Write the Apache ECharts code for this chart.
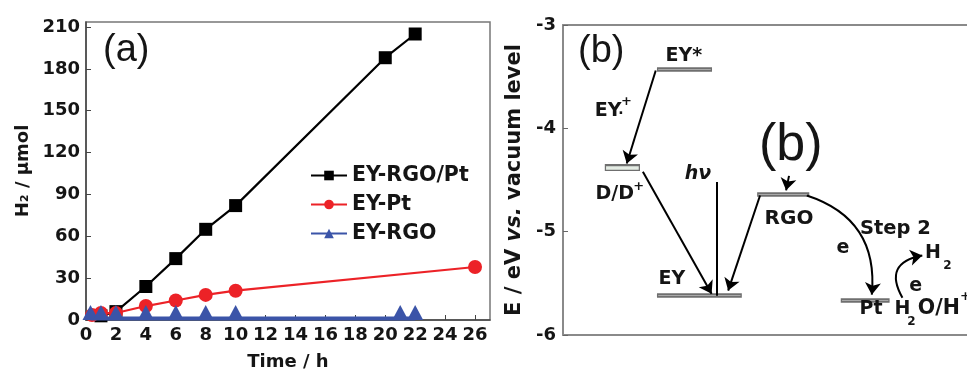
<!DOCTYPE html>
<html><head><meta charset="utf-8">
<script src="https://cdn.jsdelivr.net/npm/echarts@6/dist/echarts.min.js"></script>
<style>html,body{margin:0;padding:0;background:#fff}#c{width:967px;height:372px}</style>
</head><body><div id="c"></div>
<script>
// ---------- Panel (a) data ----------
const seriesNames = ['EY-RGO/Pt', 'EY-Pt', 'EY-RGO'];
const rgoPtTime = [1, 2, 4, 6, 8, 10, 20, 22];
const rgoPtH2   = [3, 6, 24, 44, 65, 82, 188, 205];
const ptTime    = [0.4, 1, 2, 4, 6, 8, 10, 26];
const ptH2      = [3.5, 5, 5, 10, 14, 18, 21, 38];
const rgoTime   = [0.3, 1, 2, 4, 6, 8, 10, 21, 22];
const rgoH2     = [1, 1, 1, 1, 1, 1, 1, 1, 1];
const xTicksA   = [0, 2, 4, 6, 8, 10, 12, 14, 16, 18, 20, 22, 24, 26];
const yTicksA   = [0, 30, 60, 90, 120, 150, 180, 210];

// ---------- Panel (b) data (energy in eV, horizontal position in diagram units) ----------
const levelNames  = ['EY*', 'D/D+', 'EY', 'RGO', 'Pt'];
const levelEnergy = [-3.43, -4.38, -5.62, -4.64, -5.66];
const levelStart  = [22.7, 10.1, 22.7, 46.9, 67.1];
const levelEnd    = [36.0, 18.6, 43.2, 59.5, 78.9];
const yTicksB     = [-6, -5, -4, -3];
// straight arrows: [x1, E1, x2, E2]
const arrowsStraight = [
  [22.4, -3.44, 15.4, -4.34],
  [19.3, -4.42, 35.9, -5.60],
  [47.6, -4.65, 39.9, -5.57],
  [54.6, -4.46, 53.9, -4.60]
];
// photon line hv
const hvLine = [37.1, -4.52, 37.1, -5.62];
// curved arrows: [x1, E1, x2, E2, curveness]
const arrowsCurved = [
  [58.9, -4.65, 74.6, -5.61, 0.4],
  [82.0, -5.64, 86.8, -5.23, 0.7]
];
// text labels: [text, x, E, size, style]
const labelsB = [
  ['EY*', 29.2, -3.30, 19, 'normal'],
  ['EY', 10.9, -3.83, 19, 'normal'],
  ['·', 14.0, -3.86, 14, 'normal'],
  ['+', 15.3, -3.74, 13, 'normal'],
  ['D/D', 12.5, -4.64, 19, 'normal'],
  ['+', 18.3, -4.56, 13, 'normal'],
  ['hν', 32.6, -4.44, 19, 'italic'],
  ['EY', 26.3, -5.46, 19, 'normal'],
  ['RGO', 54.6, -4.88, 20, 'normal'],
  ['Step 2', 80.3, -4.97, 19.5, 'normal'],
  ['e', 67.6, -5.16, 19, 'normal'],
  ['H', 89.4, -5.21, 19, 'normal'],
  ['2', 92.9, -5.33, 12, 'normal'],
  ['e', 85.2, -5.53, 19, 'normal'],
  ['Pt', 74.4, -5.75, 19, 'normal'],
  ['H', 82.0, -5.75, 19, 'normal'],
  ['2', 84.2, -5.87, 12, 'normal'],
  ['O/H', 90.8, -5.75, 20.5, 'normal'],
  ['+', 97.2, -5.63, 13, 'normal']
];

const BOLD = 'DejaVu Sans';
const INK = '#151515';
const chart = echarts.init(document.getElementById('c'), null, {renderer: 'canvas'});

const series = [];
// Panel a series
series.push({
  name: seriesNames[0], type: 'line', xAxisIndex: 0, yAxisIndex: 0,
  data: rgoPtTime.map((t, i) => [t, rgoPtH2[i]]),
  symbol: 'rect', symbolSize: 13, itemStyle: {color: '#000'},
  lineStyle: {color: '#000', width: 2.2}, z: 2
});
series.push({
  name: seriesNames[1], type: 'line', xAxisIndex: 0, yAxisIndex: 0,
  data: ptTime.map((t, i) => [t, ptH2[i]]),
  symbol: 'circle', symbolSize: 14, itemStyle: {color: '#ec2227'},
  lineStyle: {color: '#ec2227', width: 2.2}, z: 3
});
series.push({
  name: seriesNames[2], type: 'line', xAxisIndex: 0, yAxisIndex: 0,
  data: rgoTime.map((t, i) => [t, rgoH2[i]]),
  symbol: 'triangle', symbolSize: [16, 15], symbolOffset: [0, -6], itemStyle: {color: '#3b54a8'},
  lineStyle: {color: '#3b54a8', width: 4}, z: 4
});

// Panel b: energy levels (outer + inner stripe)
const levelData = levelNames.map((n, i) => ({coords: [[levelStart[i], levelEnergy[i]], [levelEnd[i], levelEnergy[i]]]}));
series.push({
  type: 'lines', coordinateSystem: 'cartesian2d', xAxisIndex: 1, yAxisIndex: 1,
  data: levelData.map((d, i) => ({coords: d.coords, lineStyle: {width: levelNames[i] === 'D/D+' ? 7 : 4.5}})),
  lineStyle: {color: '#6f6f6f', width: 4.5, opacity: 1}, symbol: 'none', silent: true, z: 3
});
series.push({
  type: 'lines', coordinateSystem: 'cartesian2d', xAxisIndex: 1, yAxisIndex: 1,
  data: levelData.map((d, i) => ({coords: [[d.coords[0][0] + 0.3, d.coords[0][1]], [d.coords[1][0] - 0.3, d.coords[1][1]]],
    lineStyle: {width: levelNames[i] === 'D/D+' ? 3.5 : 1, color: levelNames[i] === 'D/D+' ? '#e4ece4' : '#a9a9a9'}})),
  lineStyle: {color: '#a9a9a9', width: 1, opacity: 1}, symbol: 'none', silent: true, z: 4
});
// straight arrows
series.push({
  type: 'lines', coordinateSystem: 'cartesian2d', xAxisIndex: 1, yAxisIndex: 1,
  data: arrowsStraight.map(a => ({coords: [[a[0], a[1]], [a[2], a[3]]]})),
  lineStyle: {color: '#000', width: 2, opacity: 1},
  symbol: ['none', 'arrow'], symbolSize: 12, silent: true, z: 5
});
// hv line
series.push({
  type: 'lines', coordinateSystem: 'cartesian2d', xAxisIndex: 1, yAxisIndex: 1,
  data: [{coords: [[hvLine[0], hvLine[1]], [hvLine[2], hvLine[3]]]}],
  lineStyle: {color: '#000', width: 2, opacity: 1}, symbol: 'none', silent: true, z: 5
});
// curved arrows
arrowsCurved.forEach(a => {
  series.push({
    type: 'lines', coordinateSystem: 'cartesian2d', xAxisIndex: 1, yAxisIndex: 1,
    data: [{coords: [[a[0], a[1]], [a[2], a[3]]]}],
    lineStyle: {color: '#000', width: 2, opacity: 1, curveness: a[4]},
    symbol: ['none', 'arrow'], symbolSize: 12, silent: true, z: 5
  });
});
// labels
series.push({
  type: 'scatter', xAxisIndex: 1, yAxisIndex: 1, symbolSize: 0, silent: true, z: 6, clip: false,
  itemStyle: {opacity: 1},
  data: labelsB.map(l => ({name: l[0], value: [l[1], l[2]],
    label: {fontSize: l[3], fontStyle: l[4]}})),
  label: {show: true, position: 'inside', formatter: p => p.name, color: INK, opacity: 1,
    fontFamily: BOLD, fontWeight: 'bold', fontSize: 19}
});

const frameB = {color: '#8a8a8a', width: 2};
const option = {
  animation: false,
  backgroundColor: '#fff',
  grid: [
    {left: 86, top: 22, width: 404, height: 298, show: true, borderColor: '#777', borderWidth: 1.5,
     backgroundColor: 'transparent', outerBoundsMode: 'none', containLabel: false},
    {left: 563, top: 25, width: 404, height: 310, show: false, outerBoundsMode: 'none', containLabel: false}
  ],
  legend: {
    data: seriesNames, orient: 'vertical', left: 305, top: 160,
    itemWidth: 36, itemHeight: 12, itemGap: 8,
    textStyle: {fontFamily: BOLD, fontWeight: 'bold', fontSize: 20.5, color: INK, lineHeight: 20}
  },
  xAxis: [
    {type: 'value', gridIndex: 0, min: 0, max: 27,
     name: 'Time / h', nameLocation: 'middle', nameGap: 33,
     nameTextStyle: {fontFamily: BOLD, fontWeight: 'bold', fontSize: 18, color: INK},
     axisLine: {lineStyle: {color: '#444', width: 1.5}},
     axisTick: {inside: true, length: 5, customValues: xTicksA, lineStyle: {color: '#444'}},
     axisLabel: {customValues: xTicksA, margin: 6, fontFamily: BOLD, fontWeight: 'bold', fontSize: 18, color: INK},
     splitLine: {show: false}},
    {type: 'value', gridIndex: 1, min: 0, max: 97.6, position: 'bottom',
     axisLine: {show: true, onZero: false, lineStyle: frameB}, axisTick: {show: false}, axisLabel: {show: false}, splitLine: {show: false}},
    {type: 'value', gridIndex: 1, min: 0, max: 97.6, position: 'top',
     axisLine: {show: true, onZero: false, lineStyle: frameB}, axisTick: {show: false}, axisLabel: {show: false}, splitLine: {show: false}}
  ],
  yAxis: [
    {type: 'value', gridIndex: 0, min: 0, max: 213.6,
     name: 'H₂ / μmol', nameLocation: 'middle', nameGap: 54, nameRotate: 90,
     nameTextStyle: {fontFamily: BOLD, fontWeight: 'bold', fontSize: 18, color: INK},
     axisLine: {lineStyle: {color: '#444', width: 1.5}},
     axisTick: {inside: true, length: 5, customValues: yTicksA, lineStyle: {color: '#444'}},
     axisLabel: {customValues: yTicksA, margin: 6, fontFamily: BOLD, fontWeight: 'bold', fontSize: 18, color: INK},
     splitLine: {show: false}},
    {type: 'value', gridIndex: 1, min: -6, max: -3,
     name: 'E / eV {i|vs.} vacuum level', nameLocation: 'middle', nameGap: 38, nameRotate: 90,
     nameTextStyle: {fontFamily: BOLD, fontWeight: 'bold', fontSize: 21, color: INK,
       rich: {i: {fontFamily: BOLD, fontWeight: 'bold', fontStyle: 'italic', fontSize: 21, color: INK}}},
     axisLine: {onZero: false, lineStyle: frameB},
     axisTick: {inside: true, length: 5, customValues: yTicksB, lineStyle: {color: '#666'}},
     axisLabel: {customValues: yTicksB, margin: 7, fontFamily: BOLD, fontWeight: 'bold', fontSize: 18, color: INK},
     splitLine: {show: false}}
  ],
  graphic: [
    {type: 'text', left: 103, top: 32, style: {text: '(a)', fontFamily: 'Liberation Sans', fontSize: 38, fill: INK}},
    {type: 'text', left: 578, top: 33, style: {text: '(b)', fontFamily: 'Liberation Sans', fontSize: 38, fill: INK}},
    {type: 'text', left: 759, top: 120, style: {text: '(b)', fontFamily: 'Liberation Sans', fontSize: 52, fill: INK}}
  ],
  series: series
};
chart.setOption(option);
</script>
</body></html>
